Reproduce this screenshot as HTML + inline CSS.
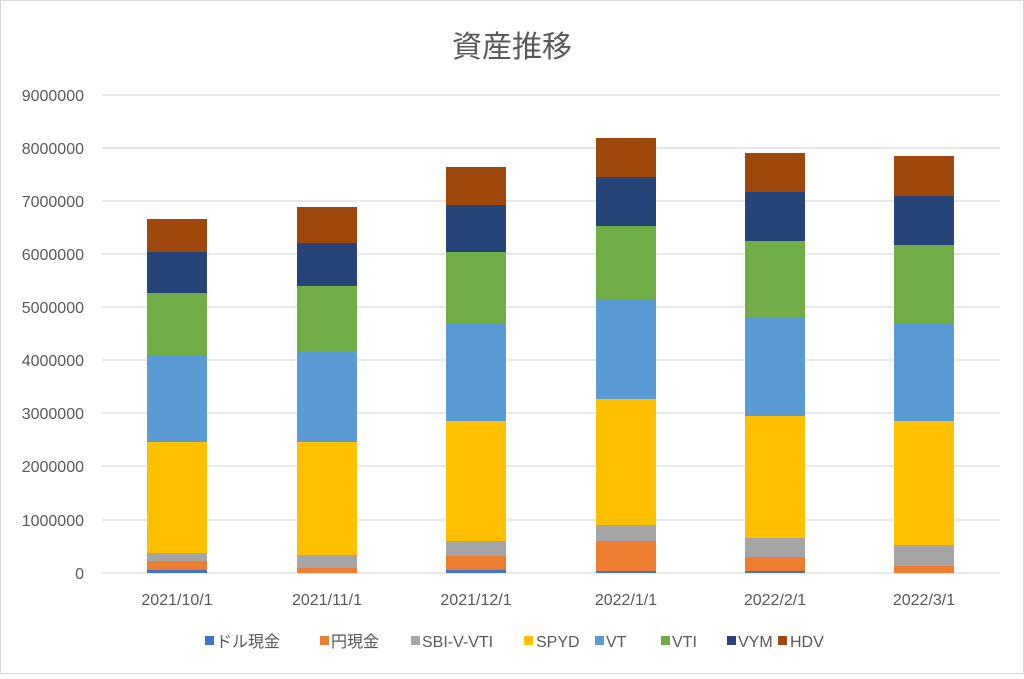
<!DOCTYPE html>
<html><head><meta charset="utf-8"><style>
html,body{margin:0;padding:0;background:#fff;}
svg text{font-family:"Liberation Sans","Noto Sans CJK JP",sans-serif;fill:#595959;}
</style></head><body>
<svg width="1024" height="674" xmlns="http://www.w3.org/2000/svg">
<rect x="0.5" y="0.5" width="1023" height="673" fill="#fff" stroke="#d9d9d9"/>
<text x="512" y="57" font-size="30" text-anchor="middle">資産推移</text>
<g stroke="#d9d9d9" stroke-width="1.3">
<line x1="102" x2="1000" y1="95" y2="95"/><line x1="102" x2="1000" y1="148" y2="148"/>
<line x1="102" x2="1000" y1="201" y2="201"/><line x1="102" x2="1000" y1="254" y2="254"/>
<line x1="102" x2="1000" y1="307" y2="307"/><line x1="102" x2="1000" y1="360" y2="360"/>
<line x1="102" x2="1000" y1="413" y2="413"/><line x1="102" x2="1000" y1="466" y2="466"/>
<line x1="102" x2="1000" y1="520" y2="520"/><line x1="102" x2="1000" y1="573" y2="573"/>
</g>
<g font-size="16" text-anchor="end">
<text x="84" y="101">9000000</text><text x="84" y="154">8000000</text>
<text x="84" y="207">7000000</text><text x="84" y="260">6000000</text>
<text x="84" y="313">5000000</text><text x="84" y="366">4000000</text>
<text x="84" y="419">3000000</text><text x="84" y="472">2000000</text>
<text x="84" y="526">1000000</text><text x="84" y="579">0</text>
</g>
<g font-size="16" text-anchor="middle">
<text x="177" y="605">2021/10/1</text><text x="327" y="605">2021/11/1</text>
<text x="476" y="605">2021/12/1</text><text x="626" y="605">2022/1/1</text>
<text x="775" y="605">2022/2/1</text><text x="924" y="605">2022/3/1</text>
</g>
<g font-size="16">
<rect x="205" y="636" width="9" height="9" fill="#4472c4"/><text x="216" y="647">ドル現金</text>
<rect x="320" y="636" width="9" height="9" fill="#ed7d31"/><text x="331" y="647">円現金</text>
<rect x="411" y="636" width="9" height="9" fill="#a5a5a5"/><text x="422" y="647">SBI-V-VTI</text>
<rect x="524" y="636" width="9" height="9" fill="#ffc000"/><text x="536" y="647">SPYD</text>
<rect x="595" y="636" width="9" height="9" fill="#5b9bd5"/><text x="606" y="647">VT</text>
<rect x="661" y="636" width="9" height="9" fill="#70ad47"/><text x="672" y="647">VTI</text>
<rect x="727" y="636" width="9" height="9" fill="#264478"/><text x="738" y="647">VYM</text>
<rect x="778" y="636" width="9" height="9" fill="#9e480e"/><text x="790" y="647">HDV</text>
</g>
<g>
<rect x="147" y="570" width="60" height="3" fill="#4472c4"/>
<rect x="147" y="561" width="60" height="9" fill="#ed7d31"/>
<rect x="147" y="553" width="60" height="8" fill="#a5a5a5"/>
<rect x="147" y="442" width="60" height="111" fill="#ffc000"/>
<rect x="147" y="355" width="60" height="87" fill="#5b9bd5"/>
<rect x="147" y="293" width="60" height="62" fill="#70ad47"/>
<rect x="147" y="252" width="60" height="41" fill="#264478"/>
<rect x="147" y="219" width="60" height="33" fill="#9e480e"/>
<rect x="297" y="568" width="60" height="5" fill="#ed7d31"/>
<rect x="297" y="555" width="60" height="13" fill="#a5a5a5"/>
<rect x="297" y="442" width="60" height="113" fill="#ffc000"/>
<rect x="297" y="351" width="60" height="91" fill="#5b9bd5"/>
<rect x="297" y="286" width="60" height="65" fill="#70ad47"/>
<rect x="297" y="243" width="60" height="43" fill="#264478"/>
<rect x="297" y="207" width="60" height="36" fill="#9e480e"/>
<rect x="446" y="570" width="60" height="3" fill="#4472c4"/>
<rect x="446" y="556" width="60" height="14" fill="#ed7d31"/>
<rect x="446" y="541" width="60" height="15" fill="#a5a5a5"/>
<rect x="446" y="421" width="60" height="120" fill="#ffc000"/>
<rect x="446" y="323" width="60" height="98" fill="#5b9bd5"/>
<rect x="446" y="252" width="60" height="71" fill="#70ad47"/>
<rect x="446" y="205" width="60" height="47" fill="#264478"/>
<rect x="446" y="167" width="60" height="38" fill="#9e480e"/>
<rect x="596" y="571" width="60" height="2" fill="#4472c4"/>
<rect x="596" y="541" width="60" height="30" fill="#ed7d31"/>
<rect x="596" y="525" width="60" height="16" fill="#a5a5a5"/>
<rect x="596" y="399" width="60" height="126" fill="#ffc000"/>
<rect x="596" y="300" width="60" height="99" fill="#5b9bd5"/>
<rect x="596" y="226" width="60" height="74" fill="#70ad47"/>
<rect x="596" y="177" width="60" height="49" fill="#264478"/>
<rect x="596" y="138" width="60" height="39" fill="#9e480e"/>
<rect x="745" y="571" width="60" height="2" fill="#4472c4"/>
<rect x="745" y="557" width="60" height="14" fill="#ed7d31"/>
<rect x="745" y="538" width="60" height="19" fill="#a5a5a5"/>
<rect x="745" y="416" width="60" height="122" fill="#ffc000"/>
<rect x="745" y="317" width="60" height="99" fill="#5b9bd5"/>
<rect x="745" y="241" width="60" height="76" fill="#70ad47"/>
<rect x="745" y="192" width="60" height="49" fill="#264478"/>
<rect x="745" y="153" width="60" height="39" fill="#9e480e"/>
<rect x="894" y="566" width="60" height="7" fill="#ed7d31"/>
<rect x="894" y="545" width="60" height="21" fill="#a5a5a5"/>
<rect x="894" y="421" width="60" height="124" fill="#ffc000"/>
<rect x="894" y="323" width="60" height="98" fill="#5b9bd5"/>
<rect x="894" y="245" width="60" height="78" fill="#70ad47"/>
<rect x="894" y="196" width="60" height="49" fill="#264478"/>
<rect x="894" y="156" width="60" height="40" fill="#9e480e"/>
</g>
</svg>
</body></html>
